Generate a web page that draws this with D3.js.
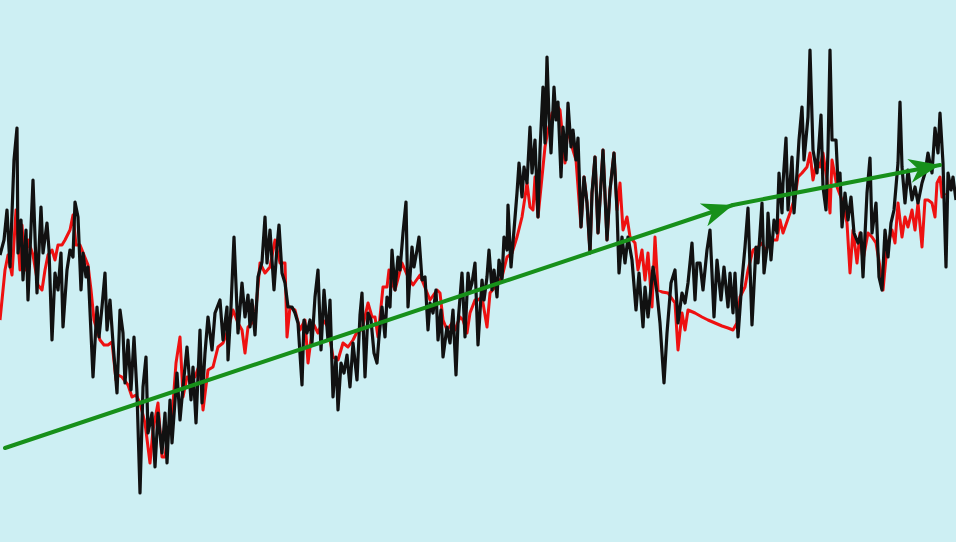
<!DOCTYPE html>
<html>
<head>
<meta charset="utf-8">
<script src="https://cdn.jsdelivr.net/npm/d3@7"></script>
<style>
  html, body { margin: 0; padding: 0; background: #cdeff3; }
  svg { display: block; }
</style>
</head>
<body>
<div id="chart"></div>
<script>
// [time, level] pairs
const priceSeries = [
  [0,287],[4,302],[7,332],[10,275],[14,382],[17,414],[18,289],[21,322],[23,262],[26,312],[28,242],[33,362],[37,249],[41,335],[43,289],[47,319],[49,292],[52,202],[55,269],[58,252],[61,289],[63,215],[67,272],[70,292],[73,285],[75,340],[78,325],[81,252],[83,289],[86,265],[88,275],[93,165],[97,235],[99,205],[102,235],[105,269],[107,212],[110,242],[113,199],[117,149],
  [120,232],[123,209],[125,159],[128,202],[131,152],[134,205],[137,149],[140,49],[143,155],[146,185],[148,109],[152,129],[155,75],[158,129],[162,89],[165,129],[167,79],[170,142],[172,99],[177,169],[180,122],[183,155],[187,195],[191,142],[193,175],[196,119],[200,212],[202,139],[205,189],[208,225],[212,192],[215,229],[220,242],[223,202],[227,235],[228,182],[231,235],[234,305],
  [238,209],[242,259],[245,225],[248,247],[250,215],[252,242],[255,207],[258,265],[262,280],[265,325],[267,279],[270,312],[272,282],[274,252],[277,295],[279,317],[282,269],[285,259],[288,235],[292,235],[295,229],[298,219],[302,157],[304,222],[307,209],[310,222],[312,199],[315,245],[318,272],[321,192],[324,252],[328,202],[330,242],[333,145],[336,185],[338,132],[341,179],[344,169],[347,187],[350,155],[353,199],[357,162],
  [360,227],[362,249],[365,165],[368,229],[371,222],[374,189],[377,179],[379,205],[382,235],[385,205],[387,245],[390,235],[392,292],[395,252],[398,285],[400,272],[403,309],[406,340],[408,235],[412,295],[414,275],[417,292],[419,305],[422,262],[425,265],[428,212],[430,239],[433,229],[436,252],[438,202],[441,232],[443,185],[447,215],[450,199],[453,232],[456,167],[458,219],[462,269],[465,205],[468,269],[470,252],[472,259],[475,279],
  [478,197],[482,262],[484,242],[487,265],[489,292],[492,252],[494,272],[497,245],[499,282],[502,262],[504,305],[507,292],[508,337],[511,275],[514,312],[517,349],[519,379],[522,345],[524,375],[527,359],[530,415],[532,369],[535,402],[538,325],[540,392],[543,455],[545,399],[547,485],[549,425],[551,389],[554,455],[556,422],[558,440],[561,365],[563,415],[566,382],[568,439],[571,395],[573,412],[576,382],[578,404],[581,315],[584,365],[587,339],[590,289],[592,349],[595,385],[598,309],
  [603,392],[607,302],[610,352],[614,389],[617,332],[619,269],[622,305],[625,279],[628,305],[632,282],[636,232],[639,269],[643,215],[645,255],[648,225],[653,275],[657,249],[660,219],[664,159],[667,209],[671,259],[675,272],[678,219],[682,249],[685,239],[688,259],[692,299],[695,242],[697,279],[700,279],[703,252],[707,292],[710,312],[714,225],
  [717,282],[721,242],[724,275],[728,235],[730,269],[733,229],[735,269],[738,205],[742,262],[745,295],[748,334],[752,217],[756,295],[758,279],[762,339],[764,269],[767,295],[768,329],[771,282],[774,322],[777,309],[779,369],[782,329],[783,359],[786,404],[788,332],[792,385],[794,329],[797,369],[799,402],[802,435],[804,382],[808,425],[810,492],[813,392],[817,369],[821,427],[823,355],[826,332],[828,392],[830,492],[832,402],[836,402],[838,359],
  [840,369],[842,315],[845,349],[848,322],[851,345],[854,309],[858,299],[861,309],[863,265],[867,349],[870,384],[872,309],[876,339],[879,265],[882,252],[885,312],[888,285],[891,319],[894,332],[898,379],[900,440],[902,375],[905,339],[908,372],[912,342],[915,355],[918,339],[922,359],[925,369],[928,389],[932,369],[935,414],[938,389],[940,429],[943,379],[946,275],[948,369],[951,352],[953,365],[956,342]
];

const smoothSeries = [
  [0,222],[5,272],[8,287],[12,267],[16,332],[20,272],[22,317],[25,272],[28,302],[33,287],[38,257],[42,252],[45,272],[48,287],[52,292],[55,282],[58,297],[62,297],[65,302],[70,312],[73,327],[76,297],[80,297],[84,287],[88,277],[91,252],[94,222],[97,212],[100,202],[104,197],[108,197],[112,200],[116,162],[118,167],
  [122,165],[128,157],[132,145],[136,147],[140,139],[145,119],[150,79],[153,112],[158,139],[162,85],[165,85],[168,109],[172,125],[176,179],[180,205],[183,145],[187,165],[190,165],[195,165],[200,179],[203,132],[208,172],[213,175],[218,195],[223,199],[228,212],[233,232],[238,219],
  [242,212],[245,189],[248,215],[255,222],[260,279],[265,269],[270,275],[275,302],[280,279],[285,279],[287,205],[290,235],[295,232],[300,212],[305,222],[308,179],[313,219],[318,209],[323,222],[328,215],[333,185],[338,182],[343,199],[348,195],[353,202],[358,212],
  [362,212],[368,239],[372,225],[375,225],[378,205],[383,255],[387,255],[389,272],[392,259],[395,252],[402,279],[408,265],[413,257],[420,267],[430,242],[437,252],[440,249],[443,222],[447,212],[452,219],[455,212],[460,225],[463,222],[467,209],[470,229],[475,242],
  [478,242],[482,245],[487,215],[490,249],[498,259],[502,265],[507,285],[512,289],[517,305],[522,325],[525,345],[527,359],[530,335],[533,332],[535,365],[538,325],[542,365],[545,395],[548,412],[550,419],[552,429],[555,432],[558,435],[560,432],[565,379],[568,415],[572,395],[576,382],[581,315],[584,365],[587,339],[590,289],[592,349],[595,385],[598,309],[603,392],[607,302],[610,352],[614,389],[617,332],
  [620,359],[623,312],[627,325],[630,305],[635,299],[638,272],[642,292],[645,262],[648,289],[652,235],[655,305],[658,252],[662,250],[668,249],[675,239],[678,192],[682,229],[685,212],[688,232],[695,229],[702,225],[708,222],[715,219],[722,216],[728,214],[733,212],[737,219],
  [740,245],[745,255],[748,272],[753,292],[758,295],[762,299],[765,292],[773,302],[777,302],[780,322],[783,309],[790,329],[795,345],[798,365],[802,369],[807,375],[810,389],[813,362],[817,382],[820,375],[823,389],[827,362],[830,329],[832,382],[837,355],
  [842,342],[847,319],[850,269],[853,312],[857,279],[860,309],[863,282],[868,309],[872,305],[876,299],[880,275],[883,252],[887,295],[892,312],[895,299],[898,339],[902,305],[905,325],[908,315],[912,332],[915,312],[918,339],[922,295],[925,342],[928,342],[932,339],[935,325],[937,359],[940,365],[942,345],[945,349]
];

// trend legs: start -> first arrow -> second arrow
const trendLegs = [
  [[5,94],[733,337]],
  [[733,337],[940,377]]
];

const width = 956;
const height = 542;

const xScale = d3.scaleLinear().domain([0, 956]).range([0, width]);
const yScale = d3.scaleLinear().domain([0, 542]).range([height, 0]);

const svg = d3.select("#chart")
  .append("svg")
  .attr("width", width)
  .attr("height", height);

svg.append("rect")
  .attr("width", width)
  .attr("height", height)
  .attr("fill", "#cdeff3");

svg.append("defs")
  .append("marker")
  .attr("id", "arrow")
  .attr("markerUnits", "userSpaceOnUse")
  .attr("viewBox", "-34 -14 36 28")
  .attr("refX", 0)
  .attr("refY", 0)
  .attr("markerWidth", 36)
  .attr("markerHeight", 28)
  .attr("orient", "auto")
  .append("path")
  .attr("d", "M0,0 L-31,-12 L-22,0 L-31,12 Z")
  .attr("fill", "#17901a");

const line = d3.line()
  .x((d) => xScale(d[0]))
  .y((d) => yScale(d[1]));

// smoother red series under the noisy one
svg.append("path")
  .datum(smoothSeries)
  .attr("fill", "none")
  .attr("stroke", "#ee1111")
  .attr("stroke-width", 3)
  .attr("stroke-linejoin", "round")
  .attr("d", line);

svg.append("path")
  .datum(priceSeries)
  .attr("fill", "none")
  .attr("stroke", "#111111")
  .attr("stroke-width", 3.2)
  .attr("stroke-linejoin", "round")
  .attr("d", line);

svg.selectAll(".trend")
  .data(trendLegs)
  .enter()
  .append("path")
  .attr("class", "trend")
  .attr("fill", "none")
  .attr("stroke", "#17901a")
  .attr("stroke-width", 4)
  .attr("stroke-linecap", "round")
  .attr("marker-end", "url(#arrow)")
  .attr("d", line);
</script>
</body>
</html>
